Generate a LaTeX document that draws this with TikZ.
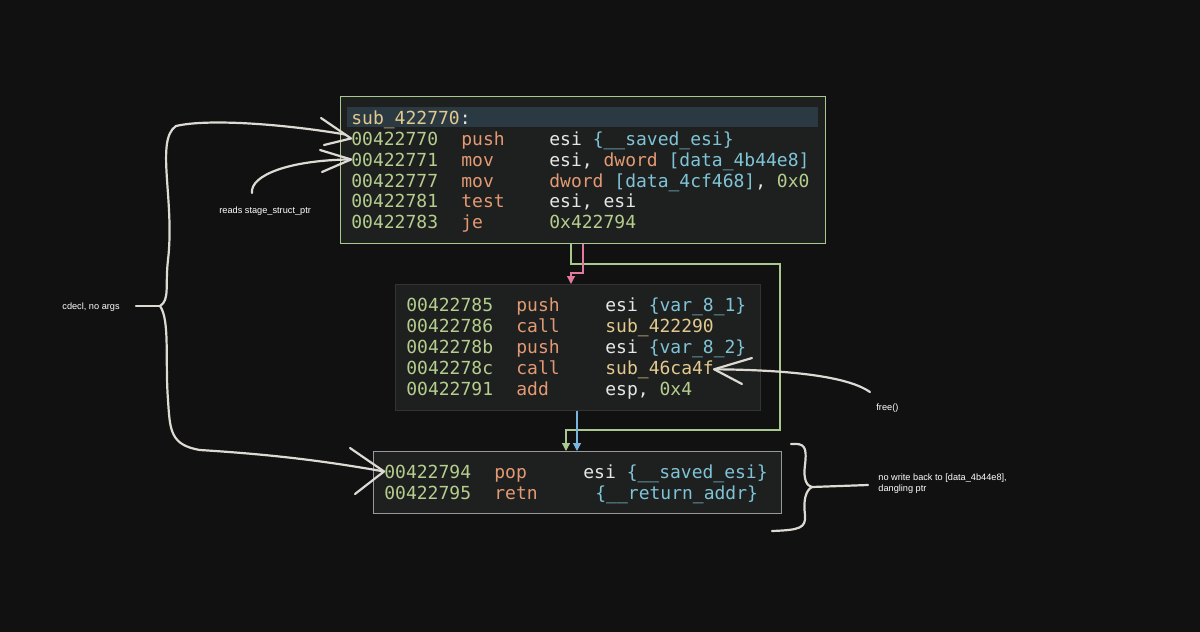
\documentclass[tikz,border=0pt]{standalone}
\usepackage{fontspec}
\setmainfont{Liberation Sans}
\setmonofont{DejaVu Sans Mono}
\usetikzlibrary{arrows.meta}
\definecolor{bg}{HTML}{111111}
\definecolor{boxf}{HTML}{1E1F1F}
\definecolor{hdr}{HTML}{2B3A42}
\definecolor{addr}{HTML}{B5CE8E}
\definecolor{mn}{HTML}{E39A73}
\definecolor{op}{HTML}{E6E6E6}
\definecolor{cy}{HTML}{7FC4D6}
\definecolor{yl}{HTML}{E2C98D}
\definecolor{gb}{HTML}{A8C890}
\definecolor{pk}{HTML}{E07A9E}
\definecolor{bl}{HTML}{78B6E0}
\definecolor{hand}{HTML}{DCDAD2}
\tikzset{
 code/.style={anchor=base west,inner sep=0pt,font=\ttfamily\fontsize{9}{10}\selectfont},
 note/.style={anchor=west,inner sep=0pt,text=white,font=\fontsize{4.6}{5.6}\selectfont,align=left},
 hw/.style={draw=hand,line width=1.1pt,line cap=round,line join=round},
 edge/.style={line width=0.6pt,-{Triangle[length=4pt,width=4pt]}}
}
\begin{document}
\begin{tikzpicture}[x=0.5pt,y=-0.5pt]
\fill[bg] (0,0) rectangle (1200,632);
\useasboundingbox (0,0) rectangle (1200,632);
% boxes
\node[draw=gb,fill=boxf,line width=0.6pt,minimum width=242.5pt,minimum height=73.5pt,anchor=north west,inner sep=0] (top) at (340,96) {};
\fill[hdr] (347,107) rectangle (818,127);
\node[draw=gray!40!black,fill=boxf,line width=0.6pt,minimum width=182.5pt,minimum height=63pt,anchor=north west,inner sep=0] (mid) at (395,284) {};
\node[draw=gray!80!white,fill=boxf,line width=0.6pt,minimum width=204pt,minimum height=31pt,anchor=north west,inner sep=0] (bot) at (373,451) {};
% top text
\node[code,text=yl] (h) at (351,124) {sub\_422770\textcolor{op}{:}};
\foreach \y/\a/\m [count=\i] in {145/00422770/push,166/00422771/mov,187/00422777/mov,207/00422781/test,228/00422783/je}{
 \node[code,text=addr] (ta\i) at (351,\y) {\a};
 \node[code,text=mn] (tm\i) at (461,\y) {\m};}
\node[code,text=op] (to1) at (549,145) {esi \textcolor{cy}{\{\_\_saved\_esi\}}};
\node[code,text=op] (to2) at (549,166) {esi, \textcolor{mn}{dword} \textcolor{cy}{[data\_4b44e8]}};
\node[code,text=mn] (to3) at (549,187) {dword \textcolor{cy}{[data\_4cf468]}\textcolor{op}{,} \textcolor{addr}{0x0}};
\node[code,text=op] (to4) at (549,207) {esi, esi};
\node[code,text=addr] (to5) at (549,228) {0x422794};
% middle text
\foreach \y/\a/\m [count=\i] in {311/00422785/push,332/00422786/call,353/0042278b/push,374/0042278c/call,395/00422791/add}{
 \node[code,text=addr] (ma\i) at (406,\y) {\a};
 \node[code,text=mn] (mm\i) at (516,\y) {\m};}
\node[code,text=op] (mo1) at (605,311) {esi \textcolor{cy}{\{var\_8\_1\}}};
\node[code,text=yl] (mo2) at (605,332) {sub\_422290};
\node[code,text=op] (mo3) at (605,353) {esi \textcolor{cy}{\{var\_8\_2\}}};
\node[code,text=yl] (mo4) at (605,374) {sub\_46ca4f};
\node[code,text=op] (mo5) at (605,395) {esp, \textcolor{addr}{0x4}};
% bottom text
\node[code,text=addr] (ba1) at (384,478) {00422794};
\node[code,text=mn] (bm1) at (494,478) {pop};
\node[code,text=op] (bo1) at (583,478) {esi \textcolor{cy}{\{\_\_saved\_esi\}}};
\node[code,text=addr] (ba2) at (384,499) {00422795};
\node[code,text=mn] (bm2) at (494,499) {retn};
\node[code,text=cy] (bo2) at (595,499) {\{\_\_return\_addr\}};
% edges
\draw[edge,gb] (top.south -| 571,0) -- (571,264) -- (780,264) -- (780,430) -- (566,430) -- (bot.north -| 566,0);
\draw[edge,pk] (top.south -| 583,0) -- (583,273) -- (571,273) -- (mid.north -| 571,0);
\draw[edge,bl] (mid.south -| 577,0) -- (bot.north -| 577,0);
% notes
\node[note] (n1) at (219,211) {reads stage\_struct\_ptr};
\node[note] (n2) at (62,307) {cdecl, no args};
\node[note] (n3) at (876,408) {free()};
\node[note] (n4) at (878,484) {no write back to [data\_4b44e8],\\dangling ptr};
% hand drawings
\draw[hw] (ta1.west) ++(-6,-4) coordinate (p1)
 (p1) .. controls (290,125) and (210,118) .. (176,126)
 .. controls (155,140) and (175,200) .. (168,260)
 .. controls (165,285) and (170,300) .. (160,306)
 .. controls (170,320) and (165,360) .. (168,400)
 .. controls (170,430) and (170,445) .. (200,450)
 .. controls (280,455) and (330,462) .. (ba1.west);
\draw[hw] (136,306) -- (160,306);
\draw[hw] (321,118) -- (ta1.west) -- (324,145);
\draw[hw] (252,193) .. controls (250,175) and (290,160) .. (ta2.west);
\draw[hw] (320,150) -- (ta2.west) -- (322,172);
\draw[hw] (350,448) -- (ba1.west) -- (355,494);
\draw[hw] (870,392) .. controls (850,378) and (800,370) .. (mo4.east);
\draw[hw] (752,358) -- (mo4.east) -- (742,384);
\draw[hw] (791,444) .. controls (805,443) and (807,447) .. (805,465) .. controls (803,480) and (807,486) .. (812,487) .. controls (806,490) and (803,500) .. (805,515) .. controls (806,528) and (800,530) .. (772,531);
\draw[hw] (812,487) -- (868,485);
\end{tikzpicture}
\end{document}
